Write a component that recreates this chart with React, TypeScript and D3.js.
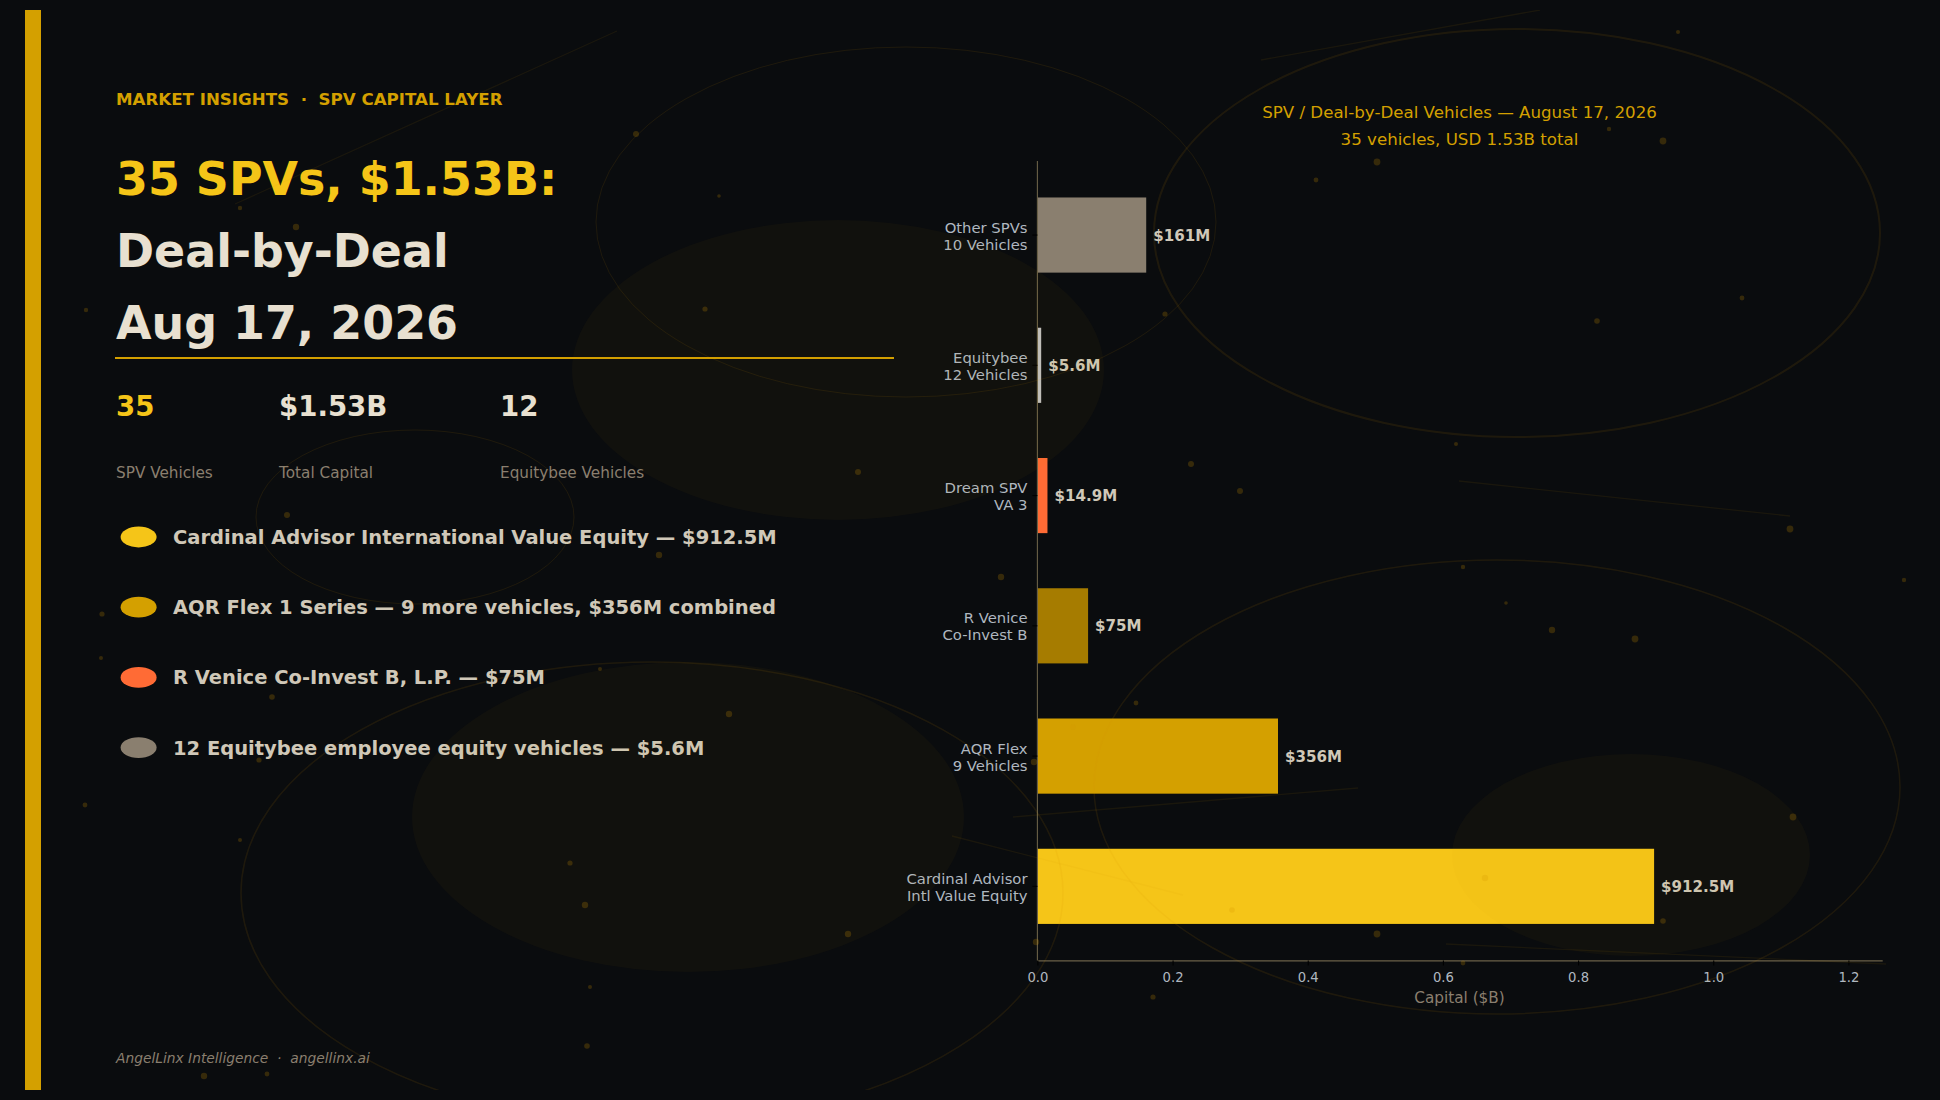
import React, { useEffect, useRef } from 'react';
import * as d3 from 'd3';

const FONT = '"DejaVu Sans", sans-serif';
const BG = '#0a0c0e';
const GOLD = '#d4a000';
const AMBER = '#d49500';
const YELLOW = '#f5c518';
const ORANGE = '#ff6b35';
const STONE = '#8a7f6f';
const CREAM = '#e8e0d0';
const SAND = '#d0c8b8';
const SLATE = '#b0b8c0';
const SPINE = '#6b6148';

// bottom to top, the way the bars stack
const categories = [
  ['Cardinal Advisor', 'Intl Value Equity'],
  ['AQR Flex', '9 Vehicles'],
  ['R Venice', 'Co-Invest B'],
  ['Dream SPV', 'VA 3'],
  ['Equitybee', '12 Vehicles'],
  ['Other SPVs', '10 Vehicles'],
];
const capital = [0.9125, 0.356, 0.075, 0.0149, 0.0056, 0.161];
const valueLabels = ['$912.5M', '$356M', '$75M', '$14.9M', '$5.6M', '$161M'];
const barColors = [YELLOW, GOLD, '#a67c00', ORANGE, '#c0c0c0', STONE];
const xTicks = [0, 0.2, 0.4, 0.6, 0.8, 1.0, 1.2];

const titleLines = ['35 SPVs, $1.53B:', 'Deal-by-Deal', 'Aug 17, 2026'];
const statValues = ['35', '$1.53B', '12'];
const statLabels = ['SPV Vehicles', 'Total Capital', 'Equitybee Vehicles'];
const legendLabels = [
  'Cardinal Advisor International Value Equity — $912.5M',
  'AQR Flex 1 Series — 9 more vehicles, $356M combined',
  'R Venice Co-Invest B, L.P. — $75M',
  '12 Equitybee employee equity vehicles — $5.6M',
];
const legendColors = [YELLOW, GOLD, ORANGE, STONE];

// background decoration: cx, cy, rx, ry
const ringsBg = [
  [1517, 233, 363, 204, 2],
  [906, 222, 310, 175, 1],
  [415, 517, 159, 87, 1],
  [652, 893, 411, 231, 1.5],
  [1497, 787, 403, 227, 1.5],
];
const blobs = [
  [838, 370, 266, 150],
  [688, 817, 276, 155],
  [1631, 855, 179, 101],
];
const streaks = [
  [235, 204, 617, 31],
  [1261, 60, 1540, 10],
  [1459, 481, 1790, 516],
  [1013, 817, 1358, 788],
  [952, 836, 1183, 895],
  [1446, 944, 1886, 964],
];
const specks = [
  [636, 134, 3], [719, 196, 1.8], [240, 208, 2.2], [296, 227, 3.2], [86, 310, 2.2], [705, 309, 2.6],
  [858, 472, 3], [287, 515, 3], [1678, 32, 2], [1609, 129, 2.2], [1663, 141, 3.4], [1377, 162, 3.4],
  [1316, 180, 2.4], [1165, 314, 2.6], [1742, 298, 2.4], [1597, 321, 2.8], [1456, 444, 2], [1191, 464, 3],
  [1240, 491, 3], [1790, 529, 3.4], [659, 555, 3.2], [102, 614, 2.6], [101, 658, 2], [600, 669, 2],
  [272, 697, 2.8], [729, 714, 3.2], [259, 760, 2.6], [85, 805, 2.4], [240, 840, 2], [570, 863, 2.6],
  [585, 905, 3.2], [848, 934, 3.2], [590, 987, 2], [587, 1046, 2.8], [204, 1076, 3.2], [267, 1074, 2.4],
  [1001, 577, 3.2], [1463, 567, 2.2], [1506, 603, 1.8], [1552, 630, 3.2], [1635, 639, 3.4], [1904, 580, 2.2],
  [1136, 703, 2.4], [1073, 727, 2.6], [1034, 762, 3.2], [1793, 817, 3.4], [1485, 878, 3.2], [1663, 921, 2.8],
  [1232, 910, 2.8], [1377, 934, 3.4], [1036, 942, 3.2], [1463, 963, 2.4], [1153, 997, 2.6],
];

const App = () => {
  const ref = useRef<SVGSVGElement>(null);

  useEffect(() => {
    document.body.style.margin = '0';
    document.body.style.background = BG;
    const svg = d3.select(ref.current);
    svg.selectAll('*').remove();

    svg.append('rect').attr('width', 1940).attr('height', 1100).attr('fill', BG);
    svg.append('rect').attr('x', 25).attr('y', 10).attr('width', 16).attr('height', 1080).attr('fill', GOLD);

    const x = d3.scaleLinear().domain([0, 1.25]).range([1037.4, 1882.2]);
    const y = d3
      .scaleBand<number>()
      .domain(d3.range(categories.length))
      .range([960.4, 161])
      .paddingInner(0.423)
      .paddingOuter(0.28);

    const chart = svg.append('g').style('font-family', FONT);

    chart
      .append('g')
      .selectAll('rect')
      .data(capital)
      .join('rect')
      .attr('x', x(0))
      .attr('y', (d, i) => y(i) || 0)
      .attr('width', (d) => x(d) - x(0))
      .attr('height', y.bandwidth())
      .attr('fill', (d, i) => barColors[i]);

    chart
      .append('g')
      .selectAll('text')
      .data(capital)
      .join('text')
      .attr('x', (d) => x(d) + 7)
      .attr('y', (d, i) => (y(i) || 0) + y.bandwidth() / 2 + 5.5)
      .attr('fill', SAND)
      .attr('font-size', 15.1)
      .attr('font-weight', 'bold')
      .text((d, i) => valueLabels[i]);

    const xAxis = chart
      .append('g')
      .attr('transform', 'translate(0,960.4)')
      .call(
        d3
          .axisBottom(x)
          .tickValues(xTicks)
          .tickFormat((d) => d3.format('.1f')(d as number))
          .tickSize(5)
          .tickPadding(7)
          .tickSizeOuter(0),
      );
    xAxis.select('.domain').attr('stroke', SPINE).attr('stroke-width', 1.1);
    xAxis.selectAll('.tick line').attr('stroke', '#000').attr('stroke-width', 1.1);
    xAxis
      .selectAll('.tick text')
      .attr('fill', SLATE)
      .attr('font-size', 13.2)
      .style('font-family', FONT);

    chart
      .append('line')
      .attr('x1', x(0))
      .attr('x2', x(0))
      .attr('y1', 161)
      .attr('y2', 960.4)
      .attr('stroke', SPINE)
      .attr('stroke-width', 1.1);

    const yTicks = chart.append('g');
    categories.forEach((lines, i) => {
      const mid = (y(i) || 0) + y.bandwidth() / 2;
      yTicks
        .append('line')
        .attr('x1', x(0) - 5)
        .attr('x2', x(0))
        .attr('y1', mid)
        .attr('y2', mid)
        .attr('stroke', '#000')
        .attr('stroke-width', 1.1);
      lines.forEach((line, j) => {
        yTicks
          .append('text')
          .attr('x', 1027.5)
          .attr('y', mid - 2.5 + j * 17)
          .attr('text-anchor', 'end')
          .attr('fill', SLATE)
          .attr('font-size', 14.8)
          .text(line);
      });
    });

    chart
      .append('text')
      .attr('x', 1459.5)
      .attr('y', 1003)
      .attr('text-anchor', 'middle')
      .attr('fill', STONE)
      .attr('font-size', 15.28)
      .text('Capital ($B)');

    chart
      .append('text')
      .attr('x', 1459.5)
      .attr('y', 118)
      .attr('text-anchor', 'middle')
      .attr('fill', GOLD)
      .attr('font-size', 16.67)
      .text('SPV / Deal-by-Deal Vehicles — August 17, 2026');
    chart
      .append('text')
      .attr('x', 1459.5)
      .attr('y', 145)
      .attr('text-anchor', 'middle')
      .attr('fill', GOLD)
      .attr('font-size', 16.67)
      .text('35 vehicles, USD 1.53B total');

    // left panel
    const left = svg.append('g').style('font-family', FONT);
    left
      .append('text')
      .attr('x', 116)
      .attr('y', 105)
      .attr('fill', GOLD)
      .attr('font-size', 16.67)
      .attr('font-weight', 'bold')
      .style('white-space', 'pre')
      .text('MARKET INSIGHTS  ·  SPV CAPITAL LAYER');

    left
      .append('g')
      .selectAll('text')
      .data(titleLines)
      .join('text')
      .attr('x', 116)
      .attr('y', (d, i) => 195 + i * 72.2)
      .attr('fill', (d, i) => (i === 0 ? YELLOW : CREAM))
      .attr('font-size', 45.9)
      .attr('font-weight', 'bold')
      .text((d) => d);

    left
      .append('line')
      .attr('x1', 115)
      .attr('x2', 894)
      .attr('y1', 358)
      .attr('y2', 358)
      .attr('stroke', GOLD)
      .attr('stroke-width', 2);

    const statX = [116, 279, 500];
    left
      .append('g')
      .selectAll('text')
      .data(statValues)
      .join('text')
      .attr('x', (d, i) => statX[i])
      .attr('y', 416)
      .attr('fill', (d, i) => (i === 0 ? YELLOW : CREAM))
      .attr('font-size', 27.6)
      .attr('font-weight', 'bold')
      .text((d) => d);
    left
      .append('g')
      .selectAll('text')
      .data(statLabels)
      .join('text')
      .attr('x', (d, i) => statX[i])
      .attr('y', 478)
      .attr('fill', STONE)
      .attr('font-size', 15.28)
      .text((d) => d);

    const legendY = (i: number) => 537 + i * 70.2;
    left
      .append('g')
      .selectAll('ellipse')
      .data(legendColors)
      .join('ellipse')
      .attr('cx', 138.6)
      .attr('cy', (d, i) => legendY(i))
      .attr('rx', 18)
      .attr('ry', 10.4)
      .attr('fill', (d) => d);
    left
      .append('g')
      .selectAll('text')
      .data(legendLabels)
      .join('text')
      .attr('x', 173)
      .attr('y', (d, i) => legendY(i) + 7)
      .attr('fill', SAND)
      .attr('font-size', 19.5)
      .attr('font-weight', 'bold')
      .text((d) => d);

    left
      .append('text')
      .attr('x', 116)
      .attr('y', 1063)
      .attr('fill', STONE)
      .attr('font-size', 13.8)
      .attr('font-style', 'italic')
      .style('white-space', 'pre')
      .text('AngelLinx Intelligence  ·  angellinx.ai');

    // decoration sits above everything, clipped to the same band as the gold bar
    svg
      .append('clipPath')
      .attr('id', 'decor')
      .append('rect')
      .attr('y', 10)
      .attr('width', 1940)
      .attr('height', 1080);
    const decor = svg.append('g').attr('clip-path', 'url(#decor)');
    decor
      .selectAll('ellipse.blob')
      .data(blobs)
      .join('ellipse')
      .attr('class', 'blob')
      .attr('cx', (d) => d[0])
      .attr('cy', (d) => d[1])
      .attr('rx', (d) => d[2])
      .attr('ry', (d) => d[3])
      .attr('fill', AMBER)
      .attr('fill-opacity', 0.04);
    decor
      .selectAll('ellipse.ring')
      .data(ringsBg)
      .join('ellipse')
      .attr('class', 'ring')
      .attr('cx', (d) => d[0])
      .attr('cy', (d) => d[1])
      .attr('rx', (d) => d[2])
      .attr('ry', (d) => d[3])
      .attr('fill', 'none')
      .attr('stroke', AMBER)
      .attr('stroke-opacity', 0.1)
      .attr('stroke-width', (d) => d[4]);
    decor
      .selectAll('line')
      .data(streaks)
      .join('line')
      .attr('x1', (d) => d[0])
      .attr('y1', (d) => d[1])
      .attr('x2', (d) => d[2])
      .attr('y2', (d) => d[3])
      .attr('stroke', AMBER)
      .attr('stroke-opacity', 0.08)
      .attr('stroke-width', 1.3);
    decor
      .selectAll('circle')
      .data(specks)
      .join('circle')
      .attr('cx', (d) => d[0])
      .attr('cy', (d) => d[1])
      .attr('r', (d) => d[2])
      .attr('fill', AMBER)
      .attr('fill-opacity', 0.22);
  }, []);

  return <svg ref={ref} width={1940} height={1100} style={{ display: 'block' }} />;
};

export default App;
